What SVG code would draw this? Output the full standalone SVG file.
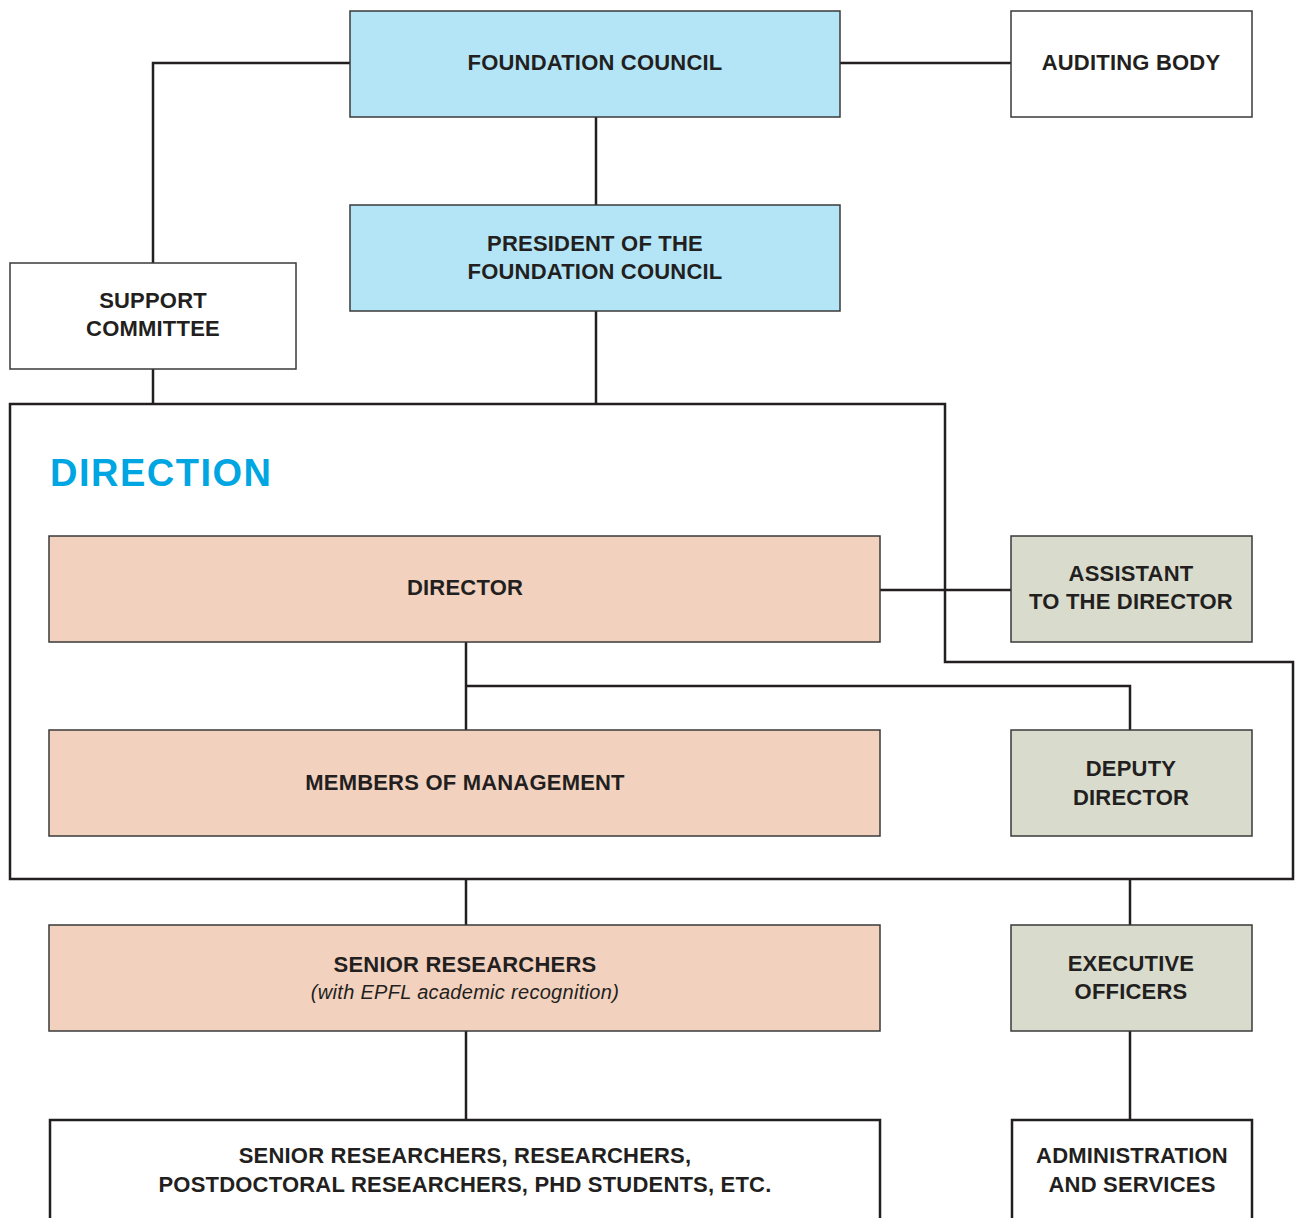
<svg xmlns="http://www.w3.org/2000/svg" width="1295" height="1218" viewBox="0 0 1295 1218">
<style>
.box{stroke:#3a3a3a;stroke-width:1.5}
.blue{fill:#b3e5f7}
.peach{fill:#f2d2bf}
.grey{fill:#d9dbcd}
.white{fill:#ffffff}
.thick{stroke:#231f20;stroke-width:2.5;fill:#ffffff}
.t{font-family:"Liberation Sans",Arial,sans-serif;font-weight:bold;font-size:22px;letter-spacing:0.2px;fill:#231f20;text-anchor:middle}
.it{font-family:"Liberation Sans",Arial,sans-serif;font-style:italic;font-size:20px;letter-spacing:0.3px;fill:#231f20;text-anchor:middle}
.c{stroke:#231f20;stroke-width:2.5;fill:none}
</style>
<rect width="1295" height="1218" fill="#ffffff"/>
<g id="direction">
<path d="M10 404 H945 V662 H1293 V879 H10 Z" class="c"/>
<text x="50" y="486" font-family="'Liberation Sans',Arial,sans-serif" font-weight="bold" font-size="38" letter-spacing="1.5" fill="#00a6e2">DIRECTION</text>
</g>
<g id="connectors">
<path d="M350 63 H153 V263" class="c"/>
<path d="M840 63 H1011" class="c"/>
<path d="M596 117 V205" class="c"/>
<path d="M596 311 V404" class="c"/>
<path d="M153 369 V404" class="c"/>
<path d="M880 590 H1011" class="c"/>
<path d="M466 642 V730" class="c"/>
<path d="M466 686 H1130 V730" class="c"/>
<path d="M466 879 V925" class="c"/>
<path d="M1130 879 V925" class="c"/>
<path d="M466 1031 V1120" class="c"/>
<path d="M1130 1031 V1120" class="c"/>
</g>
<g id="foundation-council">
<rect x="350" y="11" width="490" height="106" class="box blue"/>
<text x="595" y="70" class="t">FOUNDATION COUNCIL</text>
</g>
<g id="auditing-body">
<rect x="1011" y="11" width="241" height="106" class="box white"/>
<text x="1131" y="70" class="t">AUDITING BODY</text>
</g>
<g id="president">
<rect x="350" y="205" width="490" height="106" class="box blue"/>
<text x="595" y="251" class="t">PRESIDENT OF THE</text>
<text x="595" y="279" class="t">FOUNDATION COUNCIL</text>
</g>
<g id="support-committee">
<rect x="10" y="263" width="286" height="106" class="box white"/>
<text x="153" y="308" class="t">SUPPORT</text>
<text x="153" y="336" class="t">COMMITTEE</text>
</g>
<g id="director">
<rect x="49" y="536" width="831" height="106" class="box peach"/>
<text x="465" y="595" class="t">DIRECTOR</text>
</g>
<g id="assistant">
<rect x="1011" y="536" width="241" height="106" class="box grey"/>
<text x="1131" y="581" class="t">ASSISTANT</text>
<text x="1131" y="609" class="t">TO THE DIRECTOR</text>
</g>
<g id="members">
<rect x="49" y="730" width="831" height="106" class="box peach"/>
<text x="465" y="790" class="t">MEMBERS OF MANAGEMENT</text>
</g>
<g id="deputy">
<rect x="1011" y="730" width="241" height="106" class="box grey"/>
<text x="1131" y="776" class="t">DEPUTY</text>
<text x="1131" y="805" class="t">DIRECTOR</text>
</g>
<g id="senior-researchers">
<rect x="49" y="925" width="831" height="106" class="box peach"/>
<text x="465" y="972" class="t">SENIOR RESEARCHERS</text>
<text x="465" y="999" class="it">(with EPFL academic recognition)</text>
</g>
<g id="executive-officers">
<rect x="1011" y="925" width="241" height="106" class="box grey"/>
<text x="1131" y="971" class="t">EXECUTIVE</text>
<text x="1131" y="999" class="t">OFFICERS</text>
</g>
<g id="researchers">
<rect x="50" y="1120" width="830" height="120" class="thick"/>
<text x="465" y="1163" class="t">SENIOR RESEARCHERS, RESEARCHERS,</text>
<text x="465" y="1192" class="t">POSTDOCTORAL RESEARCHERS, PHD STUDENTS, ETC.</text>
</g>
<g id="administration">
<rect x="1012" y="1120" width="240" height="120" class="thick"/>
<text x="1132" y="1163" class="t">ADMINISTRATION</text>
<text x="1132" y="1192" class="t">AND SERVICES</text>
</g>
</svg>
